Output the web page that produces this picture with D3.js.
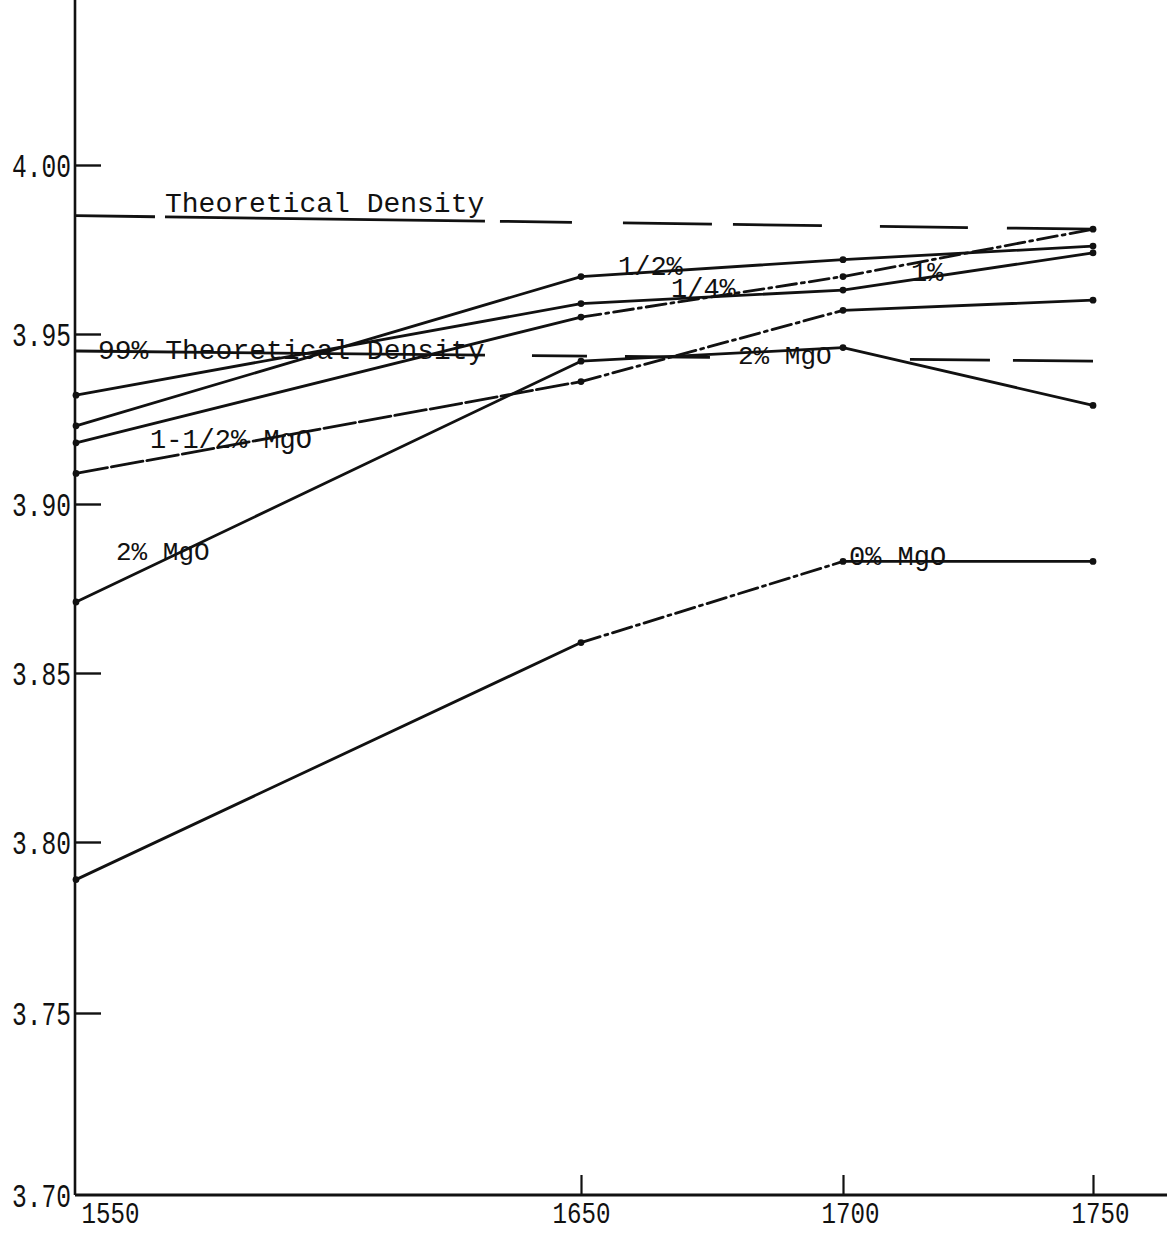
<!DOCTYPE html>
<html><head><meta charset="utf-8">
<script src="https://cdn.jsdelivr.net/npm/d3@7"></script>
<style>
html,body{margin:0;padding:0;background:#fff;}
svg{display:block;background:#fff;}
text{font-family:"Liberation Mono","DejaVu Sans Mono",monospace;fill:#111;}
</style></head><body>
<svg id="chart" width="1169" height="1236"></svg>
<script>
// ---- data ----
const temperatures = [1550, 1650, 1700, 1750];
const xTickLabels = ["1550", "1650", "1700", "1750"];
const yTicks = [3.70, 3.75, 3.80, 3.85, 3.90, 3.95, 4.00];
const yTickLabels = ["3.70", "3.75", "3.80", "3.85", "3.90", "3.95", "4.00"];

const mgo0   = [3.789, 3.859, 3.883, 3.883];
const mgo025 = [3.932, 3.959, 3.963, 3.974];
const mgo05  = [3.923, 3.967, 3.972, 3.976];
const mgo1   = [3.918, 3.955, 3.967, 3.981];
const mgo15  = [3.909, 3.936, 3.957, 3.960];
const mgo2   = [3.871, 3.942, 3.946, 3.929];

const refTemps = [1550, 1750];
const theoreticalDensity = [3.985, 3.981];
const density99 = [3.945, 3.942];

// ---- scales (hand-drawn axis spacing) ----
const x = d3.scaleLinear().domain(temperatures).range([76, 581, 843, 1093]);
const y = d3.scaleLinear().domain(yTicks).range([1195, 1013, 842, 673, 504, 334, 165]);

const svg = d3.select("#chart");
const ink = "#111";

// ---- axes ----
const yAxis = d3.axisLeft(y).tickValues(yTicks)
  .tickFormat((d, i) => yTickLabels[i])
  .tickSizeInner(-26).tickSizeOuter(0).tickPadding(4);
const gy = svg.append("g").attr("transform", "translate(75,0)").call(yAxis);
gy.select(".domain").remove();
gy.selectAll(".tick line").attr("stroke", ink).attr("stroke-width", 2.4)
  .attr("display", d => d === 3.70 ? "none" : null);
gy.selectAll(".tick text").attr("font-size", 33).attr("fill", ink)
  .attr("textLength", 59).attr("lengthAdjust", "spacingAndGlyphs")
  .attr("dy", "0.36em");

const xAxis = d3.axisBottom(x).tickValues(temperatures)
  .tickFormat((d, i) => xTickLabels[i])
  .tickSizeInner(-20).tickSizeOuter(0).tickPadding(7);
const gx = svg.append("g").attr("transform", "translate(0," + y(3.70) + ")").call(xAxis);
gx.select(".domain").remove();
gx.selectAll(".tick line").attr("stroke", ink).attr("stroke-width", 2.2)
  .attr("display", d => d === 1550 ? "none" : null);
gx.selectAll(".tick text").attr("font-size", 29).attr("fill", ink)
  .attr("textLength", 58).attr("lengthAdjust", "spacingAndGlyphs")
  .attr("dx", d => d === 1550 ? 34 : (d === 1650 ? 0 : 7));

// axis lines
svg.append("line").attr("x1", 75).attr("x2", 75).attr("y1", 0).attr("y2", y(3.70))
  .attr("stroke", ink).attr("stroke-width", 2.6);
svg.append("line").attr("x1", 75).attr("x2", 1167).attr("y1", y(3.70)).attr("y2", y(3.70))
  .attr("stroke", ink).attr("stroke-width", 2.8);

// ---- reference lines ----
const refLine = d3.line().x(d => x(d[0])).y(d => y(d[1]));
svg.append("path")
  .attr("d", refLine(refTemps.map((t, i) => [t, theoreticalDensity[i]])))
  .attr("fill", "none").attr("stroke", ink).attr("stroke-width", 2.8)
  .attr("stroke-dasharray", "79,10,320,15,72,51,89,21,89,58,88,39,90");
svg.append("path")
  .attr("d", refLine(refTemps.map((t, i) => [t, density99[i]])))
  .attr("fill", "none").attr("stroke", ink).attr("stroke-width", 2.8)
  .attr("stroke-dasharray", "409,47,55,38,85,200,80,23,90");

// ---- series ----
const solid = null, dashDot = "20,5,3,5", longDash = "32,4";
const series = [
  { values: mgo0,   styles: [solid, dashDot, solid] },
  { values: mgo025, styles: [solid, solid, solid] },
  { values: mgo05,  styles: [solid, solid, solid] },
  { values: mgo1,   styles: [solid, dashDot, dashDot] },
  { values: mgo15,  styles: [longDash, dashDot, solid] },
  { values: mgo2,   styles: [solid, solid, solid] }
];
const seg = d3.line().x(d => x(d[0])).y(d => y(d[1]));
series.forEach(s => {
  const pts = temperatures.map((t, i) => [t, s.values[i]]);
  for (let i = 0; i < pts.length - 1; i++) {
    svg.append("path").attr("d", seg([pts[i], pts[i + 1]]))
      .attr("fill", "none").attr("stroke", ink).attr("stroke-width", 2.8)
      .attr("stroke-linecap", "round")
      .attr("stroke-dasharray", s.styles[i]);
  }
  svg.append("g").selectAll("circle").data(pts).join("circle")
    .attr("cx", d => x(d[0])).attr("cy", d => y(d[1])).attr("r", 3.4).attr("fill", ink);
});

// ---- labels ----
function label(txt, px, py, size) {
  svg.append("text").attr("x", px).attr("y", py).attr("font-size", size).text(txt);
}
label("Theoretical Density", x(1550) + 89, y(theoreticalDensity[0]) - 4, 28);
label("99% Theoretical Density", x(1550) + 22, y(density99[0]) + 8, 28);
label("1/2%", x(1650) + 37, y(mgo05[1]) - 2, 27);
label("1/4%", x(1650) + 90, y(mgo025[1]) - 7, 27);
label("1%", x(1700) + 68, y(mgo1[2]) + 4, 27);
label("1-1/2% MgO", x(1550) + 74, y(mgo15[0]) - 25, 27);
label("2% MgO", x(1550) + 40, y(mgo2[0]) - 42, 26);
label("2% MgO", x(1700) - 105, y(mgo2[2]) + 16, 26);
label("0% MgO", x(1700) + 6, y(mgo0[2]) + 4, 27);
</script>
</body></html>
